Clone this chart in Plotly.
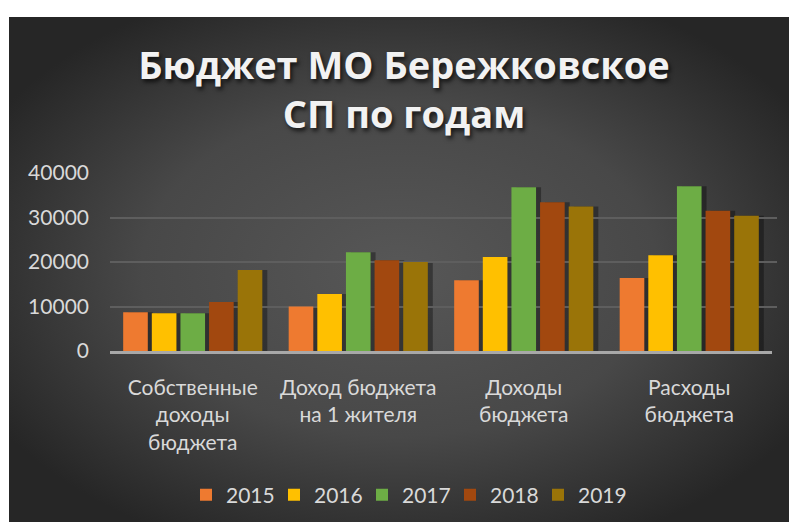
import base64
import plotly.graph_objects as go

categories = ["Собственные<br>доходы<br>бюджета", "Доход бюджета<br>на 1 жителя", "Доходы<br>бюджета", "Расходы<br>бюджета"]
years = ["2015", "2016", "2017", "2018", "2019"]
v2015 = [8700, 10000, 15900, 16400]
v2016 = [8500, 12800, 21100, 21500]
v2017 = [8500, 22200, 36800, 37000]
v2018 = [11000, 20400, 33400, 31500]
v2019 = [18200, 20000, 32500, 30400]
series = [v2015, v2016, v2017, v2018, v2019]
colors = ["#EE7A30", "#FFC000", "#6DAD45", "#A2480F", "#9A7408"]

W, H = 789, 524
ML, MR, MT, MB = 110, 10, 173, 172
PW = W - ML - MR
PH = H - MT - MB
shift = 5

fig = go.Figure()
# shadows (behind)
for ys, name in zip(series, years):
    fig.add_trace(go.Bar(x=categories, y=ys, xaxis="x", yaxis="y", marker=dict(color="rgba(0,0,0,0.35)", line=dict(width=0)),
                         showlegend=False, hoverinfo="skip", name=name + "s"))
for ys, name, c in zip(series, years, colors):
    fig.add_trace(go.Bar(x=categories, y=ys, xaxis="x2", yaxis="y", name=name, marker=dict(color=c, line=dict(width=0))))

svg = f'''<svg xmlns="http://www.w3.org/2000/svg" width="780" height="508" viewBox="0 0 780 508">
<defs><radialGradient id="g" cx="50%" cy="50%" r="60%">
<stop offset="0" stop-color="#575757"/><stop offset="0.55" stop-color="#484848"/><stop offset="1" stop-color="#262626"/></radialGradient></defs>
<rect width="780" height="508" fill="url(#g)"/></svg>'''
src = "data:image/svg+xml;base64," + base64.b64encode(svg.encode()).decode()

fig.add_layout_image(dict(source=src, xref="paper", yref="paper",
                          x=(9 - ML) / PW, y=(H - MB - 16) / PH,
                          sizex=780 / PW, sizey=508 / PH,
                          xanchor="left", yanchor="top", sizing="stretch", layer="below"))

font = "Lato, 'Open Sans', sans-serif"
fig.update_layout(
    width=W, height=H,
    margin=dict(l=ML, r=MR, t=MT, b=MB),
    paper_bgcolor="white", plot_bgcolor="rgba(0,0,0,0)",
    barmode="group", bargap=0.135, bargroupgap=0.14,
    title=dict(text="Бюджет МО Бережковское<br>СП по годам", x=404 / W, xanchor="center",
               y=1 - 79 / H, yanchor="middle",
               font=dict(family="'Open Sans', sans-serif", size=38, color="#F2F2F2", weight="bold",
                         shadow="2px 3px 4px rgba(0,0,0,0.7)")),
    xaxis=dict(domain=[shift / PW, (662 + shift) / PW], visible=False, type="category"),
    xaxis2=dict(domain=[0, 662 / PW], anchor="y", type="category", showgrid=False,
                showline=True, linecolor="#A8A8A8", linewidth=2.5,
                tickfont=dict(family=font, size=21, color="#D9D9D9"), ticklabelstandoff=16),
    yaxis=dict(anchor="x2", range=[0, 40000], tickvals=[0, 10000, 20000, 30000, 40000],
               ticktext=["0", "10000", "20000", "30000", "40000"],
               showgrid=True, gridcolor="#5E5E5E", gridwidth=1.5, zeroline=False, showline=False,
               tickfont=dict(family=font, size=21, color="#D9D9D9"), ticklabelstandoff=20),
    legend=dict(orientation="h", x=(406 - ML) / PW, xanchor="center", y=(H - MB - 495) / PH, yanchor="middle",
                font=dict(family=font, size=21, color="#D9D9D9"), bgcolor="rgba(0,0,0,0)",
                entrywidth=43, itemclick=False),
    showlegend=True,
)

fig.write_html("out.html")
